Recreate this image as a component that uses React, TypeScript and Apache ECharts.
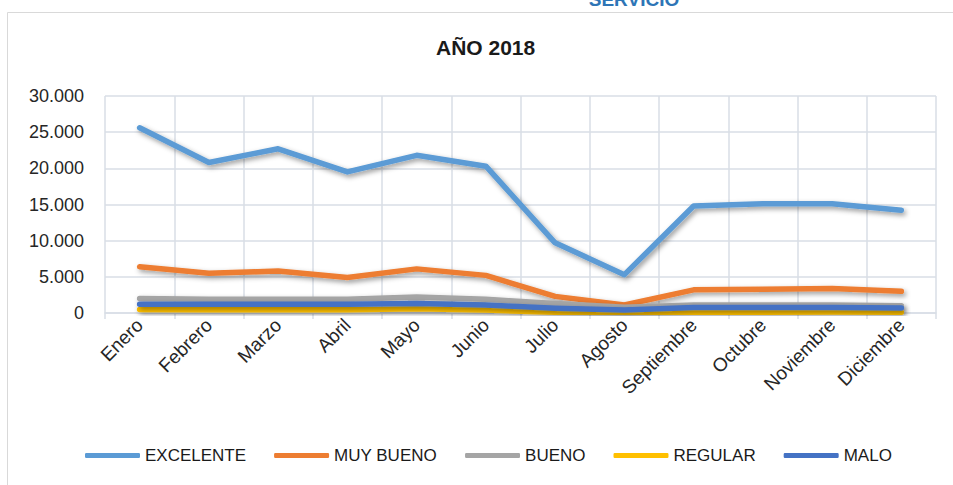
import React, { useEffect, useRef } from "react";
import * as echarts from "echarts";

const months = ["Enero", "Febrero", "Marzo", "Abril", "Mayo", "Junio", "Julio", "Agosto", "Septiembre", "Octubre", "Noviembre", "Diciembre"];
const excelente = [25600, 20800, 22700, 19500, 21800, 20300, 9700, 5300, 14800, 15100, 15100, 14200];
const muyBueno = [6400, 5500, 5800, 4900, 6100, 5200, 2300, 1100, 3200, 3300, 3400, 3000];
const bueno = [2000, 1900, 1900, 1900, 2200, 1900, 1300, 800, 1100, 1100, 1100, 1000];
const regular = [500, 450, 450, 450, 600, 400, 100, 100, 100, 100, 150, 100];
const malo = [1200, 1200, 1200, 1200, 1300, 1100, 650, 400, 750, 750, 750, 700];
const seriesNames = ["EXCELENTE", "MUY BUENO", "BUENO", "REGULAR", "MALO"];
const seriesColors = ["#5B9BD5", "#ED7D31", "#A5A5A5", "#FFC000", "#4472C4"];
const seriesData = [excelente, muyBueno, bueno, regular, malo];

const FONT = "'Liberation Sans', Arial, sans-serif";

export default function App() {
  const ref = useRef<HTMLDivElement>(null);
  useEffect(() => {
    if (!ref.current) return;
    const chart = echarts.init(ref.current, undefined, { renderer: "svg" });
    chart.setOption({
      animation: false,
      backgroundColor: "#ffffff",
      textStyle: { fontFamily: FONT },
      title: {
        text: "AÑO 2018",
        left: 436,
        top: 37,
        padding: 0,
        textStyle: { fontFamily: FONT, fontSize: 21, fontWeight: "bold", color: "#1a1a1a" },
      },
      graphic: [
        {
          type: "rect",
          shape: { x: 7.5, y: 12.5, width: 980, height: 520 },
          style: { fill: "none", stroke: "#D9D9D9", lineWidth: 1 },
          silent: true,
        },
        {
          type: "text",
          x: 634,
          y: 9,
          style: {
            text: "SERVICIO",
            fill: "#2E75B6",
            font: "bold 19px 'Liberation Sans', Arial, sans-serif",
            textAlign: "center",
            textVerticalAlign: "bottom",
          },
          silent: true,
        },
      ],
      legend: {
        left: 85,
        top: 447,
        padding: 0,
        itemWidth: 55,
        itemHeight: 5,
        itemGap: 28,
        icon: "roundRect",
        textStyle: { fontFamily: FONT, fontSize: 17, color: "#1a1a1a" },
        data: seriesNames,
      },
      grid: { left: 105, right: 17, top: 96, bottom: 172, containLabel: false },
      xAxis: {
        type: "category",
        data: months,
        boundaryGap: true,
        axisLine: { show: true, lineStyle: { color: "#D9DEE6", width: 1.5 } },
        axisTick: { show: true, interval: 0, length: 6, lineStyle: { color: "#D9DEE6", width: 1.5 } },
        splitLine: { show: true, interval: 0, lineStyle: { color: "#D9DEE6", width: 1.5 } },
        axisLabel: {
          interval: 0,
          rotate: 45,
          margin: 9,
          fontFamily: FONT,
          fontSize: 19,
          color: "#262626",
        },
      },
      yAxis: {
        type: "value",
        min: 0,
        max: 30000,
        interval: 5000,
        axisLine: { show: false },
        axisTick: { show: false },
        splitLine: { show: true, lineStyle: { color: "#D9DEE6", width: 1.5 } },
        axisLabel: {
          margin: 21,
          fontFamily: FONT,
          fontSize: 18,
          color: "#262626",
          formatter: (v: number) => (v === 0 ? "0" : String(v).replace(/\B(?=(\d{3})+(?!\d))/g, ".")),
        },
      },
      series: seriesNames.map((name, i) => ({
        name,
        type: "line",
        data: seriesData[i],
        symbol: "none",
        itemStyle: { color: seriesColors[i] },
        lineStyle: {
          color: seriesColors[i],
          width: 5.5,
          cap: "round",
          join: "round",
          shadowColor: "rgba(0,0,0,0.4)",
          shadowBlur: 5,
          shadowOffsetX: 2,
          shadowOffsetY: 2.5,
        },
      })),
    });
    return () => chart.dispose();
  }, []);
  return <div ref={ref} style={{ position: "fixed", left: 0, top: 0, width: 953, height: 485 }} />;
}
